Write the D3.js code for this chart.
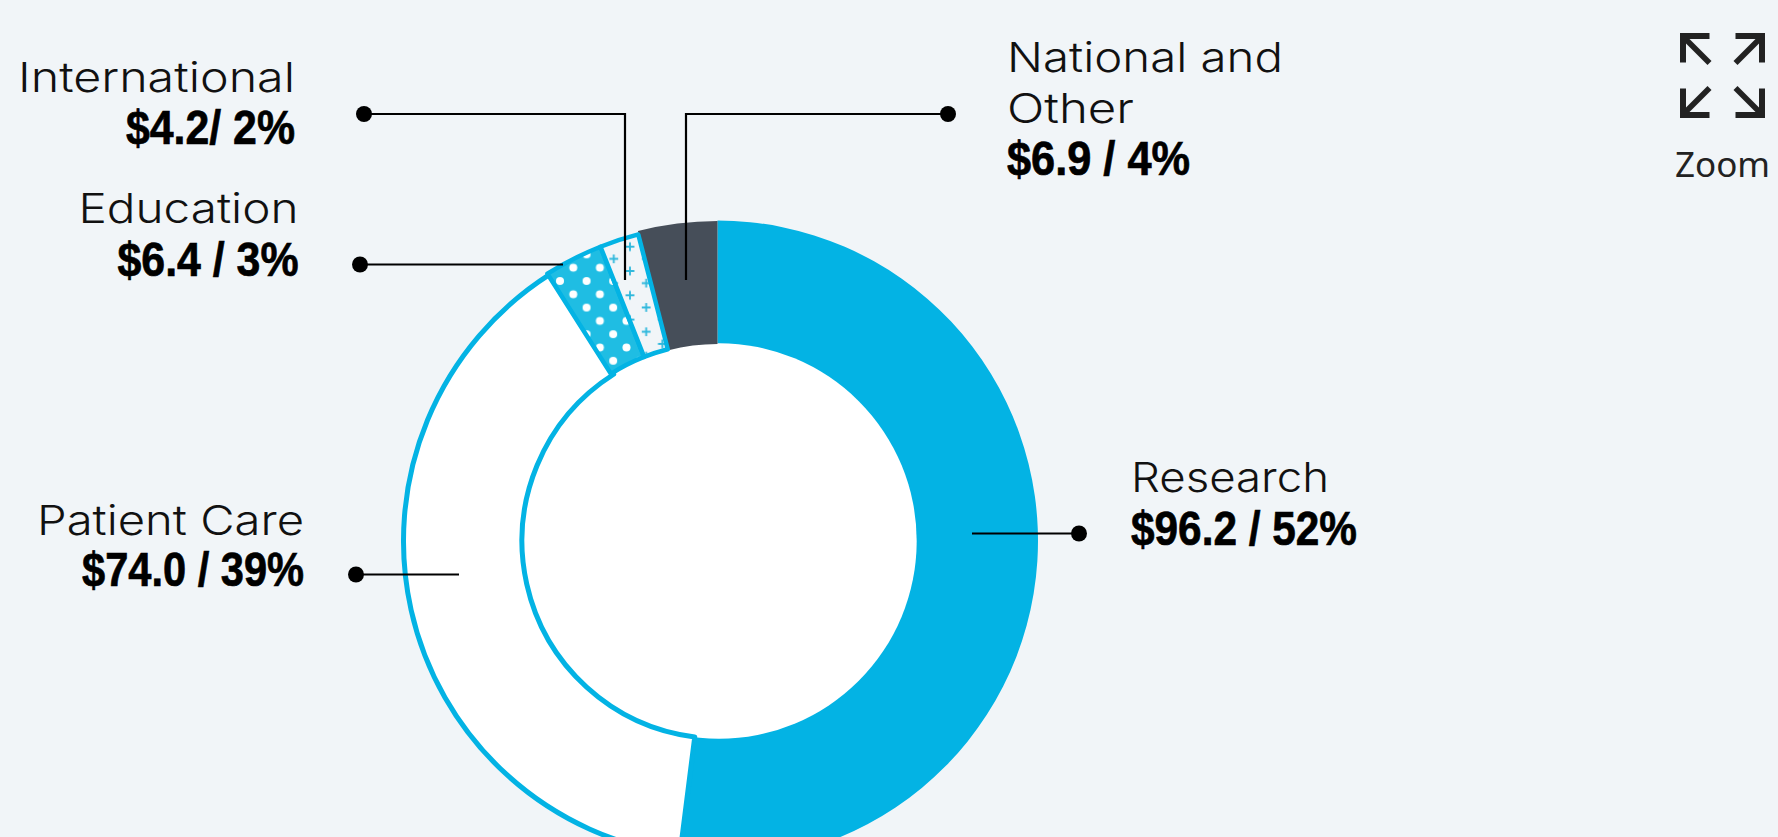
<!DOCTYPE html>
<html><head><meta charset="utf-8">
<script src="https://cdnjs.cloudflare.com/ajax/libs/d3/7.8.5/d3.min.js"></script>
<style>html,body{margin:0;padding:0;background:#f1f5f8;overflow:hidden}svg{display:block}
.name{font-family:Inter,Lato,sans-serif;font-weight:300;font-size:41px;fill:#111}
.val{font-family:"Liberation Sans Narrow","Liberation Sans",sans-serif;font-weight:700;font-size:48px;fill:#000;stroke:#000;stroke-width:.7}
</style></head><body><svg id="c" width="1778" height="837"></svg>
<script>
const categories=["Research","Patient Care","Education","International","National and Other"];
const amounts=["$96.2 / 52%","$74.0 / 39%","$6.4 / 3%","$4.2/ 2%","$6.9 / 4%"];
const percents=[52,39,3,2,4];

const W=1778,H=837;
const blue="#03b3e4",dark="#464e59",bg="#f1f5f8";
const svg=d3.select("#c");
svg.append("rect").attr("width",W).attr("height",H).attr("fill",bg);
const defs=svg.append("defs");
// patterns live in the user space of the translated slices (origin 717,541)
const dots=defs.append("pattern").attr("id","dots").attr("patternUnits","userSpaceOnUse")
 .attr("width",26.6).attr("height",26.6).attr("patternTransform","translate(-157,-260)");
dots.append("rect").attr("width",26.6).attr("height",26.6).attr("fill","#1fbde3");
[[0,0],[26.6,0],[0,26.6],[26.6,26.6],[13.3,13.3]].forEach(p=>dots.append("circle").attr("cx",p[0]).attr("cy",p[1]).attr("r",4).attr("fill","#fff"));
const plus=defs.append("pattern").attr("id","plus").attr("patternUnits","userSpaceOnUse")
 .attr("width",32.4).attr("height",24.3).attr("patternTransform","translate(-87,-294.3)");
plus.append("rect").attr("width",32.4).attr("height",24.3).attr("fill",bg);
[[0,0],[32.4,0],[0,24.3],[32.4,24.3],[16.2,12.15]].forEach(p=>plus.append("path")
 .attr("d",`M${p[0]-4.4},${p[1]}H${p[0]+4.4}M${p[0]},${p[1]-4.4}V${p[1]+4.4}`)
 .attr("stroke","#2fb8dc").attr("stroke-width",1.8).attr("fill","none"));

// per-slice drawing style, in category order
const styles=[
 {fill:blue,stroke:"none",sw:0,c:[717.5,541],R:320.5,r:190},
 {fill:"#fff",stroke:blue,sw:5,c:[719.5,541],R:316,r:197.5},
 {fill:"url(#dots)",stroke:blue,sw:4.5,c:[717,541],R:316.5,r:198},
 {fill:"url(#plus)",stroke:blue,sw:4.5,c:[717,541],R:316.5,r:198},
 {fill:dark,stroke:"none",sw:0,c:[717.5,541],R:320,r:197}];
const pie=d3.pie().sort(null).value(d=>d)(percents); // clockwise from 12 o'clock
const slices=svg.append("g");
const draw=i=>{
 const s=styles[i];
 slices.append("path").attr("transform",`translate(${s.c})`)
  .attr("d",d3.arc().innerRadius(s.r).outerRadius(s.R)(pie[i]))
  .attr("fill",s.fill).attr("stroke",s.stroke).attr("stroke-width",s.sw).attr("stroke-linejoin","round");
};
draw(0);
slices.append("circle").attr("cx",719).attr("cy",541).attr("r",197.7).attr("fill","#fff");
[4,1,2,3].forEach(draw);

// leader lines
const leaders=[
 {pts:[[1079,533.5],[972,533.5]]},
 {pts:[[356,574.5],[459,574.5]]},
 {pts:[[360,264.5],[563,264.5]]},
 {pts:[[364,114],[625,114],[625,280]]},
 {pts:[[948,114],[686,114],[686,280]]}];
const line=d3.line();
leaders.forEach(l=>{
 svg.append("path").attr("d",line(l.pts)).attr("fill","none").attr("stroke","#000").attr("stroke-width",2.2);
 svg.append("circle").attr("cx",l.pts[0][0]).attr("cy",l.pts[0][1]).attr("r",8).attr("fill","#000");
});

// labels
const labelPos=[
 {x:1131,a:"start",lines:[["Research",198,492]],val:[545,226]},
 {x:304,a:"end",lines:[["Patient Care",267,535]],val:[586,222]},
 {x:298.5,a:"end",lines:[["Education",220,223]],val:[276,181]},
 {x:295,a:"end",lines:[["International",277,92]],val:[144,169]},
 {x:1007,a:"start",lines:[["National and",276,72],["Other",127,123]],val:[175,183]}];
labelPos.forEach((p,i)=>{
 p.lines.forEach(l=>svg.append("text").attr("class","name").attr("x",p.x).attr("y",l[2]).attr("text-anchor",p.a)
  .attr("textLength",l[1]).attr("lengthAdjust","spacingAndGlyphs").text(l[0]));
 svg.append("text").attr("class","val").attr("x",p.x).attr("y",p.val[0]).attr("text-anchor",p.a)
  .attr("textLength",p.val[1]).attr("lengthAdjust","spacingAndGlyphs").text(amounts[i]);
});

// zoom icon
const icon=svg.append("g").attr("transform","translate(1722.5,75.5)");
[[1,1],[-1,1],[1,-1],[-1,-1]].forEach(s=>{
 const a=icon.append("g").attr("transform",`scale(${s[0]},${s[1]})`);
 a.append("path").attr("d","M-42.5,-42.5H-13V-36.5H-33L-11,-14.5L-15,-10.5L-36.5,-32V-13H-42.5Z").attr("fill","#222");
});
svg.append("text").attr("x",1722.5).attr("y",177).attr("text-anchor","middle")
 .attr("font-family","'Noto Sans','Open Sans',sans-serif").attr("font-size",35).attr("fill","#222").text("Zoom");
</script></body></html>
